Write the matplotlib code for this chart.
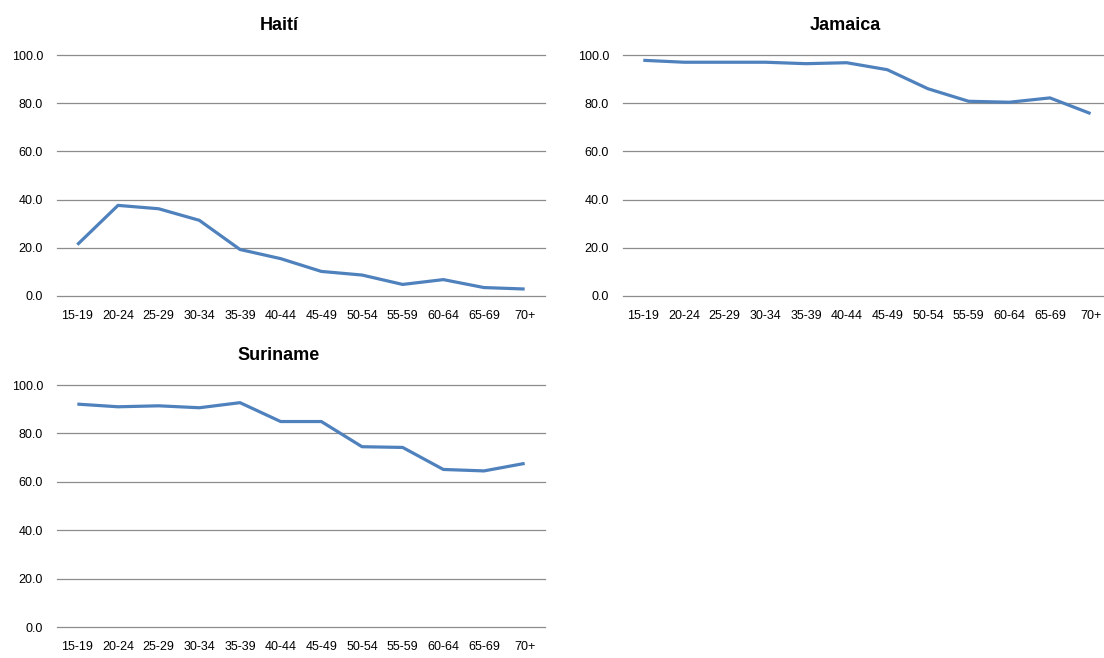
import matplotlib
matplotlib.use("Agg")
import matplotlib.pyplot as plt

plt.rcParams["font.family"] = ["Liberation Sans", "DejaVu Sans"]

age_groups = ["15-19", "20-24", "25-29", "30-34", "35-39", "40-44",
              "45-49", "50-54", "55-59", "60-64", "65-69", "70+"]

haiti = [21.3, 37.6, 36.2, 31.4, 19.3, 15.5, 10.2, 8.7, 4.8, 6.8, 3.5, 2.9]
jamaica = [97.8, 97.0, 97.0, 97.0, 96.4, 96.8, 93.9, 86.0, 80.8, 80.4, 82.2, 75.7]
suriname = [92.1, 91.0, 91.4, 90.6, 92.7, 84.9, 84.9, 74.5, 74.2, 65.1, 64.5, 67.6]

y_ticks = [0, 20, 40, 60, 80, 100]

LINE_COLOR = "#4F81BD"
GRID_COLOR = "#8C8C8C"

W, H = 1104, 658
fig = plt.figure(figsize=(W / 100, H / 100), dpi=100)
fig.patch.set_facecolor("white")


def px_axes(left, right, top, bottom):
    return fig.add_axes([left / W, 1 - bottom / H, (right - left) / W, (bottom - top) / H])


def draw_panel(ax, title, values, xmax=11.5):
    x = list(range(len(age_groups)))
    ax.plot(x, values, color=LINE_COLOR, lw=2.3, solid_joinstyle="round",
            solid_capstyle="butt", zorder=3)
    ax.set_xlim(-0.5, xmax)
    ax.set_ylim(0, 100)
    ax.set_yticks(y_ticks)
    ax.set_yticklabels([f"{v:.1f}" for v in y_ticks])
    ax.set_xticks(x)
    ax.set_xticklabels(age_groups)
    ax.tick_params(axis="y", length=0, pad=10, labelsize=9, colors="#000000")
    ax.tick_params(axis="x", length=0, pad=10, labelsize=9, colors="#000000")
    for s in ax.spines.values():
        s.set_visible(False)
    for v in y_ticks:
        ax.axhline(v, color=GRID_COLOR, lw=0.9, zorder=1, clip_on=False)
    ax.set_title(title, fontsize=13, fontweight="bold", pad=18, x=0.455)


ax1 = px_axes(57, 545, 55, 296)
draw_panel(ax1, "Haití", haiti)

# right panel runs past the figure edge, so its last bin is partly cut
ax2 = px_axes(623, 1104, 55, 296)
draw_panel(ax2, "Jamaica", jamaica, xmax=11.33)
ax2.title.set_position((0.455 * 12.0 / 11.83, 1.0))

ax3 = px_axes(57, 545, 385, 627)
draw_panel(ax3, "Suriname", suriname)

fig.savefig("out.png", dpi=100, facecolor="white")
